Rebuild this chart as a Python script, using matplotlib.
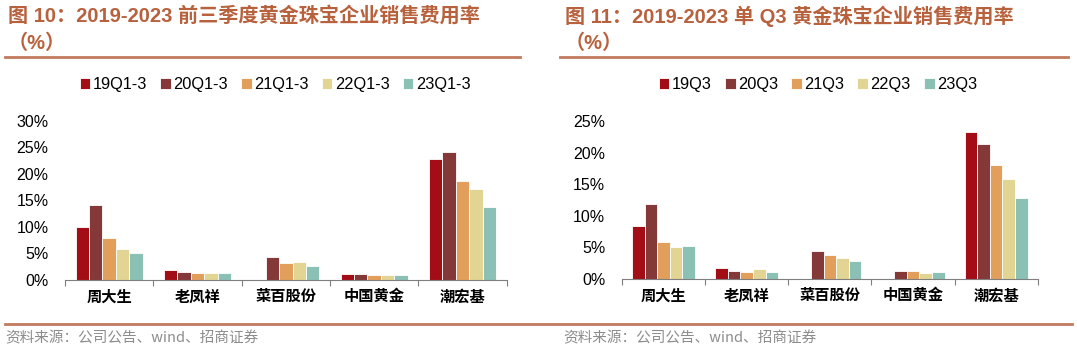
import numpy as np
import matplotlib
matplotlib.use("Agg")
import matplotlib.pyplot as plt
from matplotlib.lines import Line2D

plt.rcParams['font.family'] = ['Liberation Sans', 'Noto Sans CJK SC', 'DejaVu Sans']

COMPANIES = ["周大生", "老凤祥", "菜百股份", "中国黄金", "潮宏基"]
COLORS = ["#A30D16", "#843838", "#E29E5B", "#E2D593", "#8BC0B4"]

# 前三季度 (Q1-3) selling expense ratio, %
Q13_LABELS = ["19Q1-3", "20Q1-3", "21Q1-3", "22Q1-3", "23Q1-3"]
Q13_19 = [10.0, 1.8, np.nan, 1.1, 22.8]
Q13_20 = [14.2, 1.5, 4.3, 1.1, 24.1]
Q13_21 = [7.9, 1.3, 3.3, 1.0, 18.6]
Q13_22 = [5.8, 1.4, 3.4, 1.0, 17.2]
Q13_23 = [5.1, 1.3, 2.7, 0.9, 13.8]

# 单 Q3 selling expense ratio, %
Q3_LABELS = ["19Q3", "20Q3", "21Q3", "22Q3", "23Q3"]
Q3_19 = [8.4, 1.7, np.nan, np.nan, 23.2]
Q3_20 = [11.9, 1.25, 4.4, 1.25, 21.3]
Q3_21 = [5.85, 1.05, 3.8, 1.25, 18.0]
Q3_22 = [5.1, 1.6, 3.25, 0.95, 15.8]
Q3_23 = [5.2, 1.1, 2.8, 1.1, 12.8]

TITLE_COLOR = "#B8613D"
RULE_COLOR = "#C27A5F"


def draw(ax, series, labels, ymax, step):
    x = np.arange(len(COMPANIES))
    w = 0.152
    for i, (vals, lab) in enumerate(zip(series, labels)):
        ax.bar(x + (i - 2) * w, vals, width=w, color=COLORS[i], label=lab,
               edgecolor="white", linewidth=0.6)
    ax.set_xlim(-0.5, len(COMPANIES) - 0.5)
    ax.set_ylim(0, ymax)
    ticks = np.arange(0, ymax + 0.1, step)
    ax.set_yticks(ticks)
    ax.set_yticklabels([f"{int(v)}%" for v in ticks], fontsize=11.5)
    ax.tick_params(axis='y', length=0, pad=12)
    ax.set_xticks(np.arange(-0.5, len(COMPANIES), 1))
    ax.set_xticklabels([])
    ax.set_xticks(x, minor=True)
    ax.set_xticklabels(COMPANIES, minor=True, family=['Noto Sans CJK SC'],
                       fontsize=11, fontweight='bold')
    ax.tick_params(axis='x', which='major', length=4, direction='out', color="#7f7f7f")
    ax.tick_params(axis='x', which='minor', length=0, pad=6)
    for s in ['top', 'right', 'left']:
        ax.spines[s].set_visible(False)
    ax.spines['bottom'].set_color("#7f7f7f")
    ax.set_facecolor("none")


fig = plt.figure(figsize=(10.77, 3.51), dpi=100)

ax1 = fig.add_axes([0.0604, 0.2023, 0.410, 0.453])
draw(ax1, [Q13_19, Q13_20, Q13_21, Q13_22, Q13_23], Q13_LABELS, 30, 5)
ax2 = fig.add_axes([0.5775, 0.2051, 0.386, 0.450])
draw(ax2, [Q3_19, Q3_20, Q3_21, Q3_22, Q3_23], Q3_LABELS, 25, 5)

for ax, cx in [(ax1, 275 / 1077), (ax2, 818 / 1077)]:
    h, l = ax.get_legend_handles_labels()
    fig.legend(h, l, loc='center', bbox_to_anchor=(cx, 1 - 85 / 351), ncol=5,
               frameon=False, fontsize=11.8, handlelength=0.65, handleheight=0.65,
               handletextpad=0.15, columnspacing=0.8)

# titles
fig.text(8 / 1077, 1 - 16 / 351, "图 10：2019-2023 前三季度黄金珠宝企业销售费用率",
         fontsize=14.5, fontweight='bold', color=TITLE_COLOR, va='center')
fig.text(8 / 1077, 1 - 43 / 351, "（%）", fontsize=14.5, fontweight='bold',
         color=TITLE_COLOR, va='center')
fig.text(565 / 1077, 1 - 16 / 351, "图 11：2019-2023 单 Q3 黄金珠宝企业销售费用率",
         fontsize=14.5, fontweight='bold', color=TITLE_COLOR, va='center')
fig.text(565 / 1077, 1 - 43 / 351, "（%）", fontsize=14.5, fontweight='bold',
         color=TITLE_COLOR, va='center')

# rules
fig.add_artist(Line2D([5 / 1077, 520 / 1077], [1 - 57 / 351] * 2, color=RULE_COLOR, lw=2))
fig.add_artist(Line2D([560 / 1077, 1068 / 1077], [1 - 57 / 351] * 2, color=RULE_COLOR, lw=2))
fig.add_artist(Line2D([5 / 1077, 1072 / 1077], [1 - 324 / 351] * 2, color=RULE_COLOR, lw=2))

# sources
for x0 in [5, 563]:
    fig.text(x0 / 1077, 1 - 338 / 351, "资料来源：公司公告、wind、招商证券",
             fontsize=10.5, color="#8c8c8c", va='center',
             family=['Noto Sans CJK SC'], fontweight='light')

fig.savefig("out.png", dpi=100)
